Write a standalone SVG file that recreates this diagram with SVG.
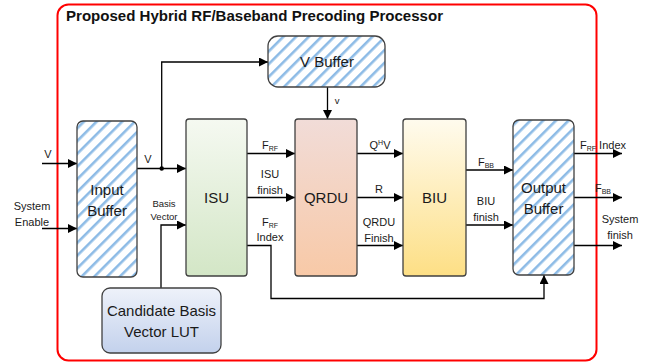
<svg xmlns="http://www.w3.org/2000/svg" width="661" height="363" viewBox="0 0 661 363">
<defs>
<pattern id="stripes" patternUnits="userSpaceOnUse" width="9" height="9" patternTransform="rotate(45)">
<rect width="9" height="9" fill="#ffffff"/>
<rect x="0" y="0" width="2.6" height="9" fill="#8dbbe6"/>
</pattern>
<linearGradient id="gISU" x1="0" y1="0" x2="0" y2="1"><stop offset="0" stop-color="#f5f9f1"/><stop offset="1" stop-color="#d3e6c6"/></linearGradient>
<linearGradient id="gQRDU" x1="0" y1="0" x2="0" y2="1"><stop offset="0" stop-color="#f1dcd8"/><stop offset="1" stop-color="#f8c9a7"/></linearGradient>
<linearGradient id="gBIU" x1="0" y1="0" x2="0" y2="1"><stop offset="0" stop-color="#fffbee"/><stop offset="1" stop-color="#fddf85"/></linearGradient>
<linearGradient id="gLUT" x1="0" y1="0" x2="0" y2="1"><stop offset="0" stop-color="#eef2fa"/><stop offset="1" stop-color="#c3d1ec"/></linearGradient>
<marker id="arr" viewBox="0 0 10 10" refX="10" refY="5" markerWidth="9" markerHeight="9" markerUnits="userSpaceOnUse" orient="auto">
<path d="M0,0 L10,5 L0,10 Z" fill="#000"/>
</marker>
</defs>
<style>
.box{stroke:#404040;stroke-width:1.3}
.buf{fill:url(#stripes)}
.lbl{font-family:"Liberation Sans",Arial,sans-serif;font-size:15px;fill:#1a1a1a;text-anchor:middle}
.sm{font-family:"Liberation Sans",Arial,sans-serif;font-size:11px;fill:#1a1a1a;text-anchor:middle}
.xs{font-family:"Liberation Sans",Arial,sans-serif;font-size:9.5px;fill:#1a1a1a;text-anchor:middle}
.sub{font-size:7px}
.w{fill:none;stroke:#000;stroke-width:1.3}
.a{marker-end:url(#arr)}
</style>
<rect x="57.5" y="4.5" width="539" height="356" rx="11" fill="#fff" stroke="#ff0000" stroke-width="2"/>
<text x="66" y="21" font-family="'Liberation Sans',Arial,sans-serif" font-weight="bold" font-size="15" textLength="377" lengthAdjust="spacingAndGlyphs" fill="#111">Proposed Hybrid RF/Baseband Precoding Processor</text>

<g id="connectors">
<path class="w a" d="M42,163.5 H77"/>
<path class="w a" d="M42,228.5 H77"/>
<path class="w a" d="M137,168.5 H186"/>
<path class="w a" d="M161.7,168.5 V62 H268"/>
<circle cx="161.7" cy="168.5" r="2.2" fill="#000"/>
<path class="w a" d="M161,288 V225 H186"/>
<path class="w a" d="M327.5,87 V119"/>
<path class="w a" d="M247,153.5 H295"/>
<path class="w a" d="M247,197.5 H295"/>
<path class="w a" d="M247,245.5 H271 V298.5 H544 V275"/>
<path class="w a" d="M357,153.5 H403"/>
<path class="w a" d="M357,197.5 H403"/>
<path class="w a" d="M357,245.5 H403"/>
<path class="w a" d="M466,170 H513"/>
<path class="w a" d="M466,225 H513"/>
<path class="w a" d="M574,153.5 H622"/>
<path class="w a" d="M574,197.5 H622"/>
<path class="w a" d="M574,245.5 H622"/>
</g>

<g id="labels">
<text class="sm" x="48" y="158">V</text>
<text class="sm" x="32" y="210">System</text>
<text class="sm" x="32" y="226">Enable</text>
<text class="sm" x="148" y="163">V</text>
<text class="xs" x="164" y="207">Basis</text>
<text class="xs" x="164" y="220">Vector</text>
<text class="xs" x="337" y="104" font-size="7">v</text>
<text class="sm" x="270" y="149">F<tspan class="sub" dy="2">RF</tspan></text>
<text class="sm" x="270" y="178">ISU</text>
<text class="sm" x="270" y="194">finish</text>
<text class="sm" x="270" y="226">F<tspan class="sub" dy="2">RF</tspan></text>
<text class="sm" x="270" y="241">Index</text>
<text class="sm" x="380" y="149">Q<tspan class="sub" dy="-4">H</tspan><tspan dy="4">V</tspan></text>
<text class="sm" x="379" y="193">R</text>
<text class="sm" x="379" y="226">QRDU</text>
<text class="sm" x="379" y="242">Finish</text>
<text class="sm" x="486" y="166">F<tspan class="sub" dy="2">BB</tspan></text>
<text class="sm" x="486" y="205">BIU</text>
<text class="sm" x="486" y="221">finish</text>
<text class="sm" x="603" y="149" text-anchor="start">F<tspan class="sub" dy="2">RF</tspan><tspan dy="-2"> Index</tspan></text>
<text class="sm" x="603" y="192" text-anchor="start">F<tspan class="sub" dy="2">BB</tspan></text>
<text class="sm" x="620" y="223">System</text>
<text class="sm" x="620" y="239">finish</text>
</g>

<g id="input-buffer">
<rect class="box buf" x="77" y="121" width="60" height="156" rx="6"/>
<text class="lbl" x="107" y="195">Input</text>
<text class="lbl" x="107" y="216">Buffer</text>
</g>
<g id="v-buffer">
<rect class="box buf" x="268" y="36" width="117" height="51" rx="10"/>
<text class="lbl" x="327" y="67">V Buffer</text>
</g>
<g id="isu">
<rect class="box" x="186" y="119" width="61" height="157" rx="3" fill="url(#gISU)"/>
<text class="lbl" x="216.5" y="203">ISU</text>
</g>
<g id="qrdu">
<rect class="box" x="295" y="119" width="62" height="157" rx="3" fill="url(#gQRDU)"/>
<text class="lbl" x="326" y="203">QRDU</text>
</g>
<g id="biu">
<rect class="box" x="403" y="119" width="63" height="157" rx="3" fill="url(#gBIU)"/>
<text class="lbl" x="434.5" y="203">BIU</text>
</g>
<g id="output-buffer">
<rect class="box buf" x="513" y="120" width="61" height="155" rx="6"/>
<text class="lbl" x="543.5" y="193">Output</text>
<text class="lbl" x="543.5" y="214">Buffer</text>
</g>
<g id="lut">
<rect class="box" x="102" y="288" width="119" height="65" rx="8" fill="url(#gLUT)"/>
<text class="lbl" x="161.5" y="316">Candidate Basis</text>
<text class="lbl" x="161.5" y="337">Vector LUT</text>
</g>
</svg>
